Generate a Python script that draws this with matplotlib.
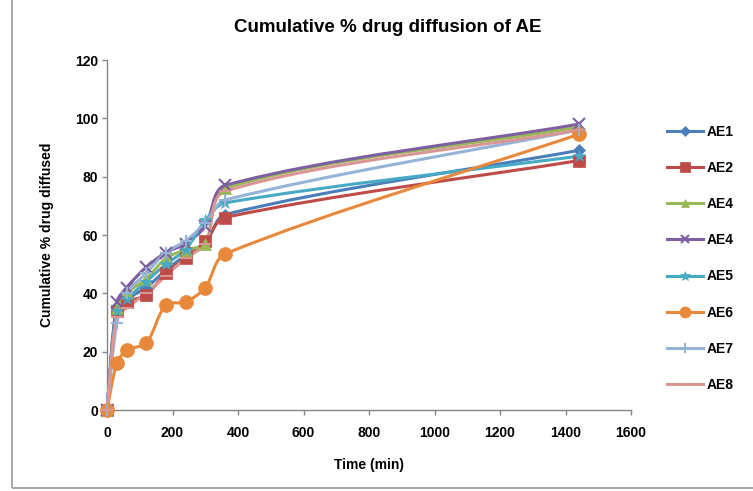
import numpy as np
import matplotlib
matplotlib.use("Agg")
import matplotlib.pyplot as plt
from matplotlib.path import Path
from matplotlib.patches import PathPatch, Rectangle
from matplotlib.lines import Line2D

time = [0, 30, 60, 120, 180, 240, 300, 360, 1440]
series_names = ["AE1", "AE2", "AE4", "AE4", "AE5", "AE6", "AE7", "AE8"]
ae1 = [0, 35, 38, 42, 48, 53, 57, 67, 89]
ae2 = [0, 34, 37, 39.5, 47, 52, 58, 66, 85.5]
ae4a = [0, 35, 40, 45, 52, 55, 57, 76, 97]
ae4b = [0, 37, 42, 49, 54, 57, 63, 77, 98]
ae5 = [0, 34, 38, 44, 50, 55, 65, 71, 87]
ae6 = [0, 16, 20.5, 23, 36, 37, 42, 53.5, 94.5]
ae7 = [0, 30, 40, 47, 54, 58, 64, 72, 96]
ae8 = [0, 32, 35, 40, 46, 52, 57, 75, 96]
all_values = [ae1, ae2, ae4a, ae4b, ae5, ae6, ae7, ae8]

colors = ["#4A7EBB", "#BE4B48", "#98B954", "#7D60A0", "#46AAC5", "#E8883A", "#95B3D7", "#D99694"]
markers = ["D", "s", "^", "x", "*", "o", "+", "_"]
msizes = [6, 9, 8, 8, 9, 10, 9, 9]

def smooth_path(x, y, k=0.3):
    pts = np.column_stack([np.asarray(x, float), np.asarray(y, float)])
    n = len(pts)
    verts = [tuple(pts[0])]
    codes = [Path.MOVETO]
    def unit(v):
        nv = np.hypot(*v)
        return v / nv if nv > 0 else v
    for i in range(n - 1):
        p0 = pts[max(i - 1, 0)]
        p1 = pts[i]
        p2 = pts[i + 1]
        p3 = pts[min(i + 2, n - 1)]
        seg = np.hypot(*(p2 - p1))
        c1 = p1 + unit(p2 - p0) * seg * k
        c2 = p2 - unit(p3 - p1) * seg * k
        verts += [tuple(c1), tuple(c2), tuple(p2)]
        codes += [Path.CURVE4] * 3
    return Path(verts, codes)

fig = plt.figure(figsize=(7.53, 4.91), dpi=100)
plt.rcParams['font.family'] = ['Liberation Sans', 'DejaVu Sans']
ax = fig.add_axes([107/753, 1 - 410/491, (631-107)/753, (410-60)/491])

handles = []
for vals, c, m, ms, name in zip(all_values, colors, markers, msizes, series_names):
    # smoothing computed in a display-proportional space, then mapped back to data
    sx = np.array(time) / 1600.0 * 524
    sy = np.array(vals) / 120.0 * 350
    p = smooth_path(sx, sy)
    v = p.vertices.copy()
    v[:, 0] = v[:, 0] / 524 * 1600
    v[:, 1] = v[:, 1] / 350 * 120
    path = Path(v, p.codes)
    ax.add_patch(PathPatch(path, facecolor='none', edgecolor=c, lw=2.2, zorder=2, clip_on=False))
    thin = m in ("x", "+", "_")
    ax.plot(time, vals, linestyle='none', marker=m, color=c, markersize=ms,
            markeredgewidth=1.5 if thin else 0.5, zorder=3, clip_on=False)
    handles.append(Line2D([0], [0], color=c, lw=2.2, marker=m, markersize=ms * 0.8,
                          markeredgewidth=1.5 if thin else 0.5))

ax.set_xlim(0, 1600)
ax.set_ylim(0, 120)
ax.set_xticks(range(0, 1601, 200))
ax.set_yticks(range(0, 121, 20))
for s in ("top", "right"):
    ax.spines[s].set_visible(False)
for s in ("left", "bottom"):
    ax.spines[s].set_color("#868686")
    ax.spines[s].set_linewidth(1.0)
    ax.spines[s].set_zorder(1)
ax.tick_params(axis='both', colors='#868686', length=3.5, width=1, labelsize=10)
ax.tick_params(axis='x', pad=8)
ax.tick_params(axis='y', pad=3)
for lab in ax.get_xticklabels() + ax.get_yticklabels():
    lab.set_color('black')
    lab.set_fontweight('bold')

ax.set_xlabel("Time (min)", fontsize=10, fontweight='bold', labelpad=13)
ax.set_ylabel("Cumulative % drug diffused", fontsize=10, fontweight='bold', labelpad=15)
fig.text(388/753, 1 - 28/491, "Cumulative % drug diffusion of AE", ha='center', va='center',
         fontsize=13.5, fontweight='bold')

leg = fig.legend(handles, series_names, loc='upper left', bbox_to_anchor=(654/753, 1 - 112/491),
                 frameon=False, prop={'weight': 'bold', 'size': 10}, labelspacing=1.6,
                 handlelength=2.6, handletextpad=0.3)

fig.patches.append(Rectangle((12/753, 3/491), 1.0, 1.2, transform=fig.transFigure,
                             fill=False, edgecolor='#9a9a9a', lw=1.2))

fig.savefig("out.png", dpi=100)
